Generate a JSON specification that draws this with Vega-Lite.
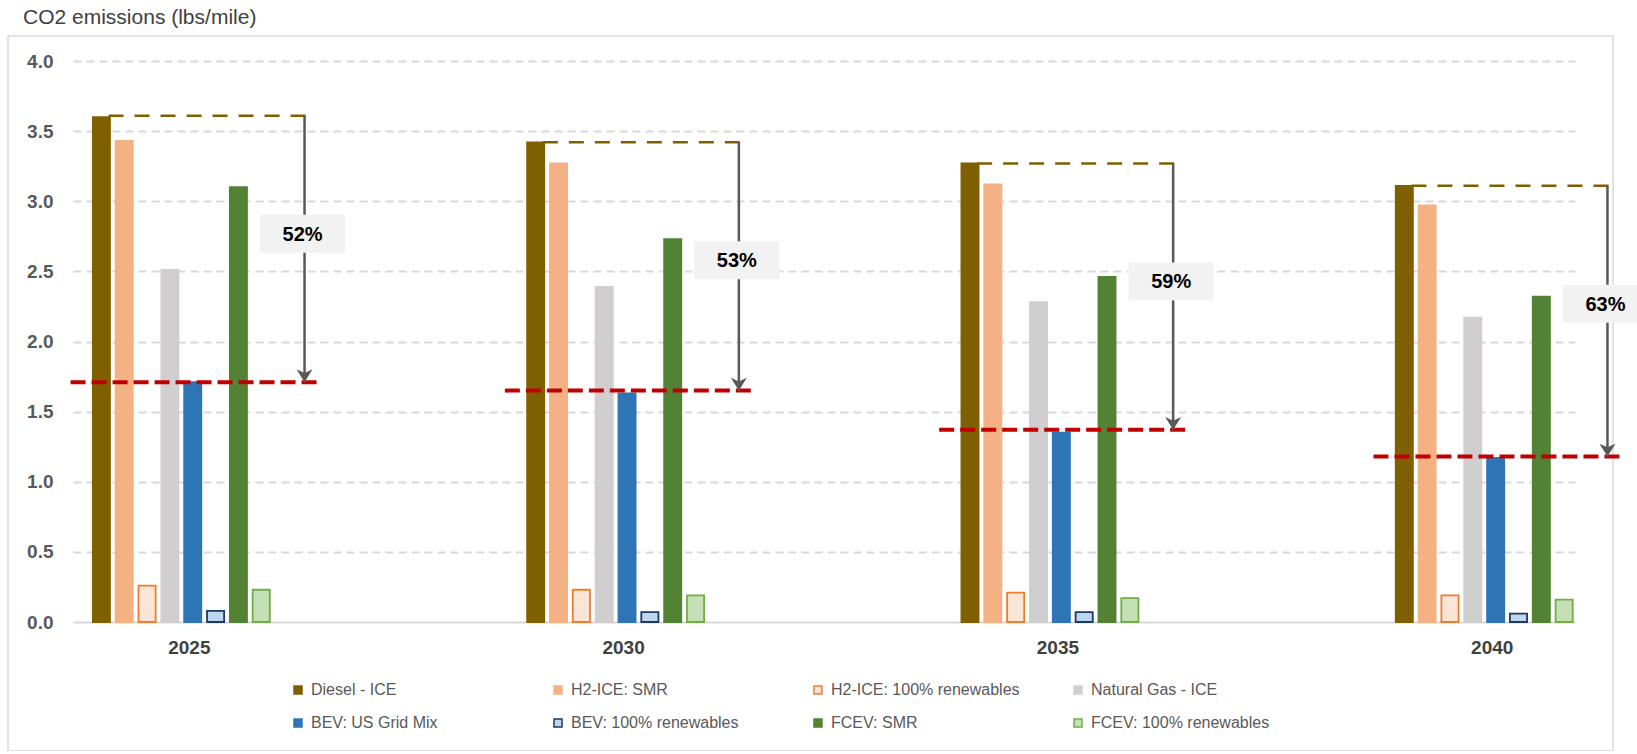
{
  "$schema": "https://vega.github.io/schema/vega-lite/v6.json",
  "autosize": {"type": "none"},
  "padding": {"left": 8, "top": 36, "right": 24, "bottom": 0},
  "width": 1605,
  "height": 715,
  "background": "#FFFFFF",
  "title": {
    "text": "CO2 emissions (lbs/mile)",
    "anchor": "start",
    "frame": "group",
    "dx": 15,
    "offset": 8,
    "fontSize": 21,
    "fontWeight": "normal",
    "color": "#404040"
  },
  "config": {
    "font": "Liberation Sans",
    "view": {"stroke": "#D9D9D9", "strokeWidth": 1.5},
    "legend": {
      "orient": "none",
      "legendX": 282,
      "legendY": 646,
      "columns": 4,
      "direction": "horizontal",
      "gridAlign": "all",
      "columnPadding": 50,
      "rowPadding": 17,
      "symbolType": "square",
      "symbolSize": 64,
      "symbolStrokeWidth": 1.5,
      "labelFontSize": 16,
      "labelColor": "#595959",
      "labelOffset": 5,
      "labelLimit": 400,
      "padding": 0
    }
  },
  "datasets": {
    "bars": [
      {"year": "2025", "series": "Diesel - ICE", "value": 3.60},
      {"year": "2025", "series": "H2-ICE: SMR", "value": 3.43},
      {"year": "2025", "series": "H2-ICE: 100% renewables", "value": 0.26},
      {"year": "2025", "series": "Natural Gas - ICE", "value": 2.51},
      {"year": "2025", "series": "BEV: US Grid Mix", "value": 1.71},
      {"year": "2025", "series": "BEV: 100% renewables", "value": 0.08},
      {"year": "2025", "series": "FCEV: SMR", "value": 3.10},
      {"year": "2025", "series": "FCEV: 100% renewables", "value": 0.23},
      {"year": "2030", "series": "Diesel - ICE", "value": 3.42},
      {"year": "2030", "series": "H2-ICE: SMR", "value": 3.27},
      {"year": "2030", "series": "H2-ICE: 100% renewables", "value": 0.23},
      {"year": "2030", "series": "Natural Gas - ICE", "value": 2.39},
      {"year": "2030", "series": "BEV: US Grid Mix", "value": 1.63},
      {"year": "2030", "series": "BEV: 100% renewables", "value": 0.07},
      {"year": "2030", "series": "FCEV: SMR", "value": 2.73},
      {"year": "2030", "series": "FCEV: 100% renewables", "value": 0.19},
      {"year": "2035", "series": "Diesel - ICE", "value": 3.27},
      {"year": "2035", "series": "H2-ICE: SMR", "value": 3.12},
      {"year": "2035", "series": "H2-ICE: 100% renewables", "value": 0.21},
      {"year": "2035", "series": "Natural Gas - ICE", "value": 2.28},
      {"year": "2035", "series": "BEV: US Grid Mix", "value": 1.35},
      {"year": "2035", "series": "BEV: 100% renewables", "value": 0.07},
      {"year": "2035", "series": "FCEV: SMR", "value": 2.46},
      {"year": "2035", "series": "FCEV: 100% renewables", "value": 0.17},
      {"year": "2040", "series": "Diesel - ICE", "value": 3.11},
      {"year": "2040", "series": "H2-ICE: SMR", "value": 2.97},
      {"year": "2040", "series": "H2-ICE: 100% renewables", "value": 0.19},
      {"year": "2040", "series": "Natural Gas - ICE", "value": 2.17},
      {"year": "2040", "series": "BEV: US Grid Mix", "value": 1.17},
      {"year": "2040", "series": "BEV: 100% renewables", "value": 0.06},
      {"year": "2040", "series": "FCEV: SMR", "value": 2.32},
      {"year": "2040", "series": "FCEV: 100% renewables", "value": 0.16}
    ],
    "notes": [
      {"year": "2025", "diesel": 3.61, "bev": 1.71, "label": "52%"},
      {"year": "2030", "diesel": 3.42, "bev": 1.65, "label": "53%"},
      {"year": "2035", "diesel": 3.27, "bev": 1.37, "label": "59%"},
      {"year": "2040", "diesel": 3.11, "bev": 1.18, "label": "63%"}
    ]
  },
  "encoding": {
    "x": {
      "field": "year",
      "type": "nominal",
      "scale": {"range": [65, 1567], "paddingInner": 0.582, "paddingOuter": 0.0202, "align": 1},
      "axis": {
        "title": null,
        "domain": false,
        "ticks": false,
        "grid": false,
        "labelAngle": 0,
        "labelPadding": -104,
        "labelBaseline": "middle",
        "labelFontSize": 19,
        "labelFontWeight": "bold",
        "labelColor": "#404040",
        "labelOffset": 8
      }
    }
  },
  "layer": [
    {
      "data": {"name": "bars"},
      "mark": {"type": "bar", "strokeWidth": 1.8},
      "encoding": {
        "xOffset": {
          "field": "series",
          "type": "nominal",
          "sort": ["Diesel - ICE", "H2-ICE: SMR", "H2-ICE: 100% renewables", "Natural Gas - ICE", "BEV: US Grid Mix", "BEV: 100% renewables", "FCEV: SMR", "FCEV: 100% renewables"],
          "scale": {"paddingInner": 0.25, "paddingOuter": 0.1}
        },
        "y": {
          "field": "value",
          "type": "quantitative",
          "scale": {"domain": [0, 4], "range": [586, 25], "nice": false, "zero": true},
          "axis": {
            "title": null,
            "values": [0, 0.5, 1, 1.5, 2, 2.5, 3, 3.5, 4],
            "format": ".1f",
            "domain": false,
            "ticks": false,
            "labelPadding": -45,
            "labelFontSize": 19,
            "labelFontWeight": "bold",
            "labelColor": "#595959",
            "grid": true,
            "gridColor": "#D9D9D9",
            "gridWidth": 2,
            "gridDash": {"condition": {"test": "datum.value === 0", "value": [1, 0]}, "value": [8, 5]}
          }
        },
        "fill": {
          "field": "series",
          "type": "nominal",
          "scale": {
            "domain": ["Diesel - ICE", "H2-ICE: SMR", "H2-ICE: 100% renewables", "Natural Gas - ICE", "BEV: US Grid Mix", "BEV: 100% renewables", "FCEV: SMR", "FCEV: 100% renewables"],
            "range": ["#7F6000", "#F4B183", "#FBE5D6", "#D0CECE", "#2E75B6", "#BDD7EE", "#548235", "#C5E0B4"]
          },
          "legend": {"title": null}
        },
        "stroke": {
          "field": "series",
          "type": "nominal",
          "scale": {
            "domain": ["Diesel - ICE", "H2-ICE: SMR", "H2-ICE: 100% renewables", "Natural Gas - ICE", "BEV: US Grid Mix", "BEV: 100% renewables", "FCEV: SMR", "FCEV: 100% renewables"],
            "range": ["#7F6000", "#F4B183", "#ED7D31", "#D0CECE", "#2E75B6", "#203864", "#548235", "#70AD47"]
          },
          "legend": {"title": null}
        }
      }
    },
    {
      "data": {"name": "notes"},
      "mark": {"type": "rule", "color": "#C00000", "strokeWidth": 4, "strokeDash": [15, 6], "xOffset": -20, "x2Offset": 230},
      "encoding": {
        "x": {"field": "year", "type": "nominal", "bandPosition": 0},
        "x2": {"field": "year", "bandPosition": 0},
        "y": {"field": "bev", "type": "quantitative"}
      }
    },
    {
      "data": {"name": "notes"},
      "mark": {"type": "rule", "color": "#7F6000", "strokeWidth": 2.5, "strokeDash": [15, 11], "xOffset": 18, "x2Offset": 226},
      "encoding": {
        "x": {"field": "year", "type": "nominal", "bandPosition": 0},
        "x2": {"field": "year", "bandPosition": 0},
        "y": {"field": "diesel", "type": "quantitative"}
      }
    },
    {
      "data": {"name": "notes"},
      "mark": {"type": "rule", "color": "#595959", "strokeWidth": 2.5, "xOffset": 214},
      "encoding": {
        "x": {"field": "year", "type": "nominal", "bandPosition": 0},
        "y": {"field": "diesel", "type": "quantitative"},
        "y2": {"field": "bev"}
      }
    },
    {
      "data": {"name": "notes"},
      "mark": {"type": "point", "shape": "M0,0.8L-1,-0.8L0,-0.35L1,-0.8Z", "filled": true, "fill": "#595959", "opacity": 1, "size": 256, "strokeWidth": 0, "xOffset": 214, "yOffset": -6.4},
      "encoding": {
        "x": {"field": "year", "type": "nominal", "bandPosition": 0},
        "y": {"field": "bev", "type": "quantitative"}
      }
    },
    {
      "data": {"name": "notes"},
      "mark": {"type": "point", "shape": "M-1,-0.447L1,-0.447L1,0.447L-1,0.447Z", "filled": true, "fill": "#F2F2F2", "opacity": 1, "size": 7225, "strokeWidth": 0, "xOffset": 212, "yOffset": 118},
      "encoding": {
        "x": {"field": "year", "type": "nominal", "bandPosition": 0},
        "y": {"field": "diesel", "type": "quantitative"}
      }
    },
    {
      "data": {"name": "notes"},
      "mark": {"type": "text", "fontSize": 20, "fontWeight": "bold", "color": "#000000", "align": "center", "baseline": "middle", "xOffset": 212, "yOffset": 119},
      "encoding": {
        "x": {"field": "year", "type": "nominal", "bandPosition": 0},
        "y": {"field": "diesel", "type": "quantitative"},
        "text": {"field": "label"}
      }
    }
  ]
}
